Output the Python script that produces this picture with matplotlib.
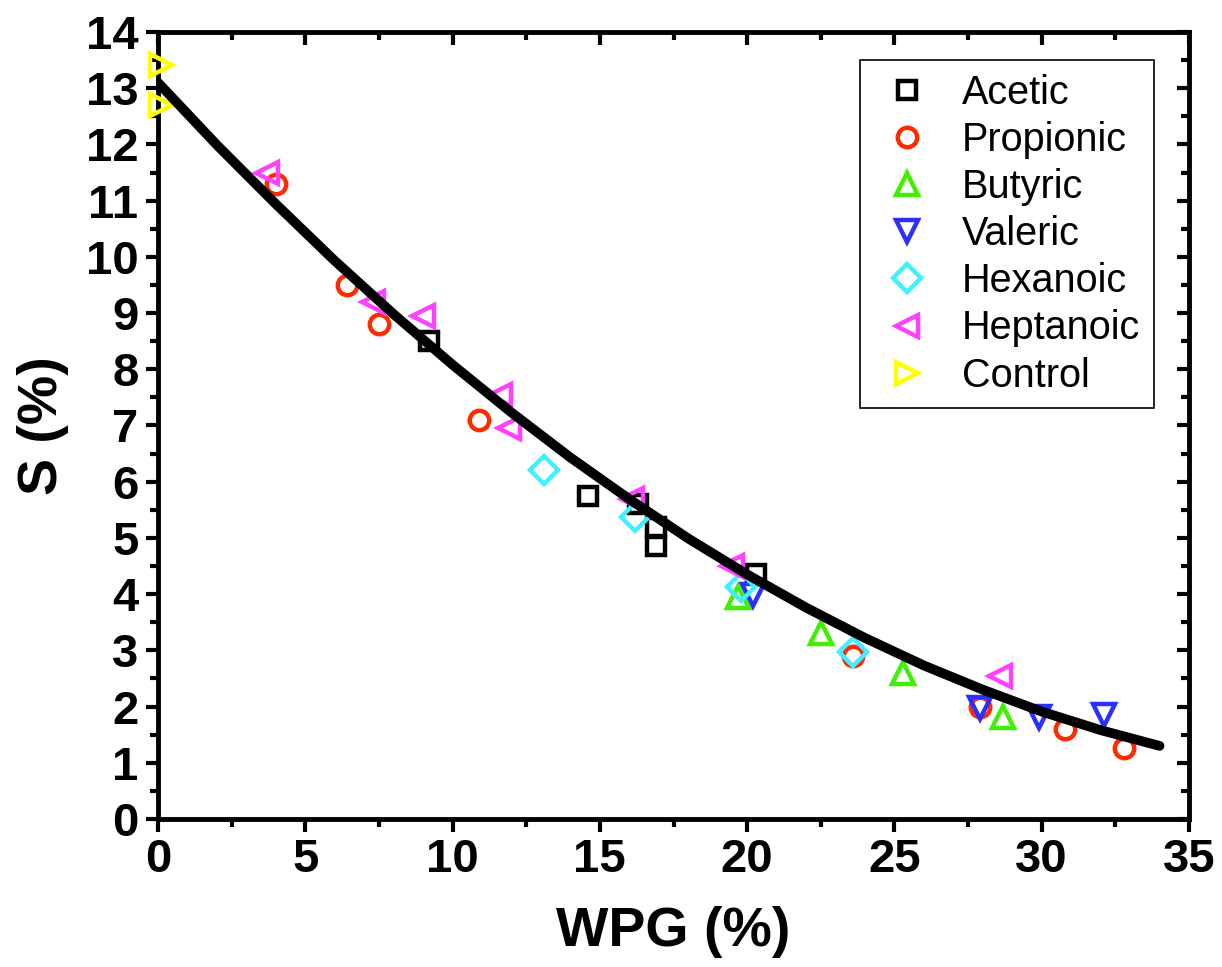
import numpy as np
import matplotlib
matplotlib.use("Agg")
import matplotlib.pyplot as plt
from matplotlib.ticker import MultipleLocator

# data
acetic_x = [9.2, 14.6, 16.3, 16.9, 16.9, 20.3]
acetic_y = [8.5, 5.75, 5.6, 5.2, 4.85, 4.35]
propionic_x = [4.0, 6.4, 7.5, 10.9, 23.6, 27.9, 30.8, 32.8]
propionic_y = [11.3, 9.5, 8.8, 7.1, 2.9, 2.0, 1.6, 1.27]
butyric_x = [19.7, 22.5, 25.3, 28.7]
butyric_y = [3.95, 3.3, 2.6, 1.82]
valeric_x = [20.2, 27.9, 29.9, 32.1]
valeric_y = [3.99, 1.97, 1.82, 1.85]
hexanoic_x = [13.1, 16.2, 19.8, 23.6]
hexanoic_y = [6.2, 5.38, 4.12, 2.97]
heptanoic_x = [3.7, 7.3, 9.0, 11.6, 11.9, 16.1, 19.5, 28.6]
heptanoic_y = [11.5, 9.2, 8.95, 7.55, 6.95, 5.7, 4.5, 2.55]
control_x = [0.1, 0.1]
control_y = [13.42, 12.7]

# fitted curve
fit_x = [0, 2, 4, 6, 8, 10, 12, 14, 16, 18, 20, 22, 24, 26, 28, 30, 32, 34]
fit_y = [13.10, 11.99, 10.94, 9.93, 8.98, 8.08, 7.23, 6.43, 5.69, 4.99,
         4.35, 3.76, 3.22, 2.73, 2.30, 1.91, 1.58, 1.30]

series = [
    ("Acetic", acetic_x, acetic_y, "s", "#000000", 13),
    ("Propionic", propionic_x, propionic_y, "o", "#ff2a00", 14),
    ("Butyric", butyric_x, butyric_y, "^", "#3ff000", 16),
    ("Valeric", valeric_x, valeric_y, "v", "#2a30ff", 16),
    ("Hexanoic", hexanoic_x, hexanoic_y, "D", "#40f0ff", 14),
    ("Heptanoic", heptanoic_x, heptanoic_y, "<", "#ff40ff", 16),
    ("Control", control_x, control_y, ">", "#ffff00", 16),
]

bold_font = ["Liberation Sans", "DejaVu Sans"]

fig = plt.figure(figsize=(12.22, 9.67), dpi=100)
ax = fig.add_axes([0.1293, 0.1531, 0.8437, 0.8138])

for name, xs, ys, mk, col, ms in series:
    ax.plot(xs, ys, linestyle="none", marker=mk, markersize=ms, mfc="none",
            mec=col, mew=3.2, label=name, clip_on=False, zorder=3)

ax.plot(fit_x, fit_y, color="k", linewidth=7, solid_capstyle="round", zorder=4)

ax.set_xlim(0, 35)
ax.set_ylim(0, 14)
ax.xaxis.set_major_locator(MultipleLocator(5))
ax.xaxis.set_minor_locator(MultipleLocator(2.5))
ax.yaxis.set_major_locator(MultipleLocator(1))
ax.yaxis.set_minor_locator(MultipleLocator(0.5))

for sp in ax.spines.values():
    sp.set_linewidth(3.5)

ax.tick_params(axis="both", which="major", length=9, width=3, direction="out", pad=5)
ax.tick_params(axis="both", which="minor", length=6, width=3, direction="out")
ax.tick_params(top=True, right=True, which="both")
# top and right ticks point inward
for t in ax.xaxis.get_major_ticks() + ax.xaxis.get_minor_ticks():
    t.tick2line.set_marker(matplotlib.lines.TICKDOWN)
for t in ax.yaxis.get_major_ticks() + ax.yaxis.get_minor_ticks():
    t.tick2line.set_marker(matplotlib.lines.TICKLEFT)

for lab in ax.get_xticklabels() + ax.get_yticklabels():
    lab.set_family(bold_font)
    lab.set_fontweight("bold")
    lab.set_fontsize(34)

ax.set_xlabel("WPG (%)", family=bold_font, fontweight="bold", fontsize=40, labelpad=17)
ax.set_ylabel("S (%)", family=bold_font, fontweight="bold", fontsize=40, labelpad=12)

leg = ax.legend(loc="upper left", bbox_to_anchor=(0.681, 0.9644), frameon=True,
                fancybox=False, edgecolor="k", framealpha=1,
                prop={"family": ["Liberation Sans", "DejaVu Sans"], "size": 28.5},
                labelspacing=0.23, handlelength=1.67, handletextpad=0.55,
                borderpad=0.35, borderaxespad=0)
leg.get_frame().set_linewidth(1.2)

fig.savefig("out.png", dpi=100)
